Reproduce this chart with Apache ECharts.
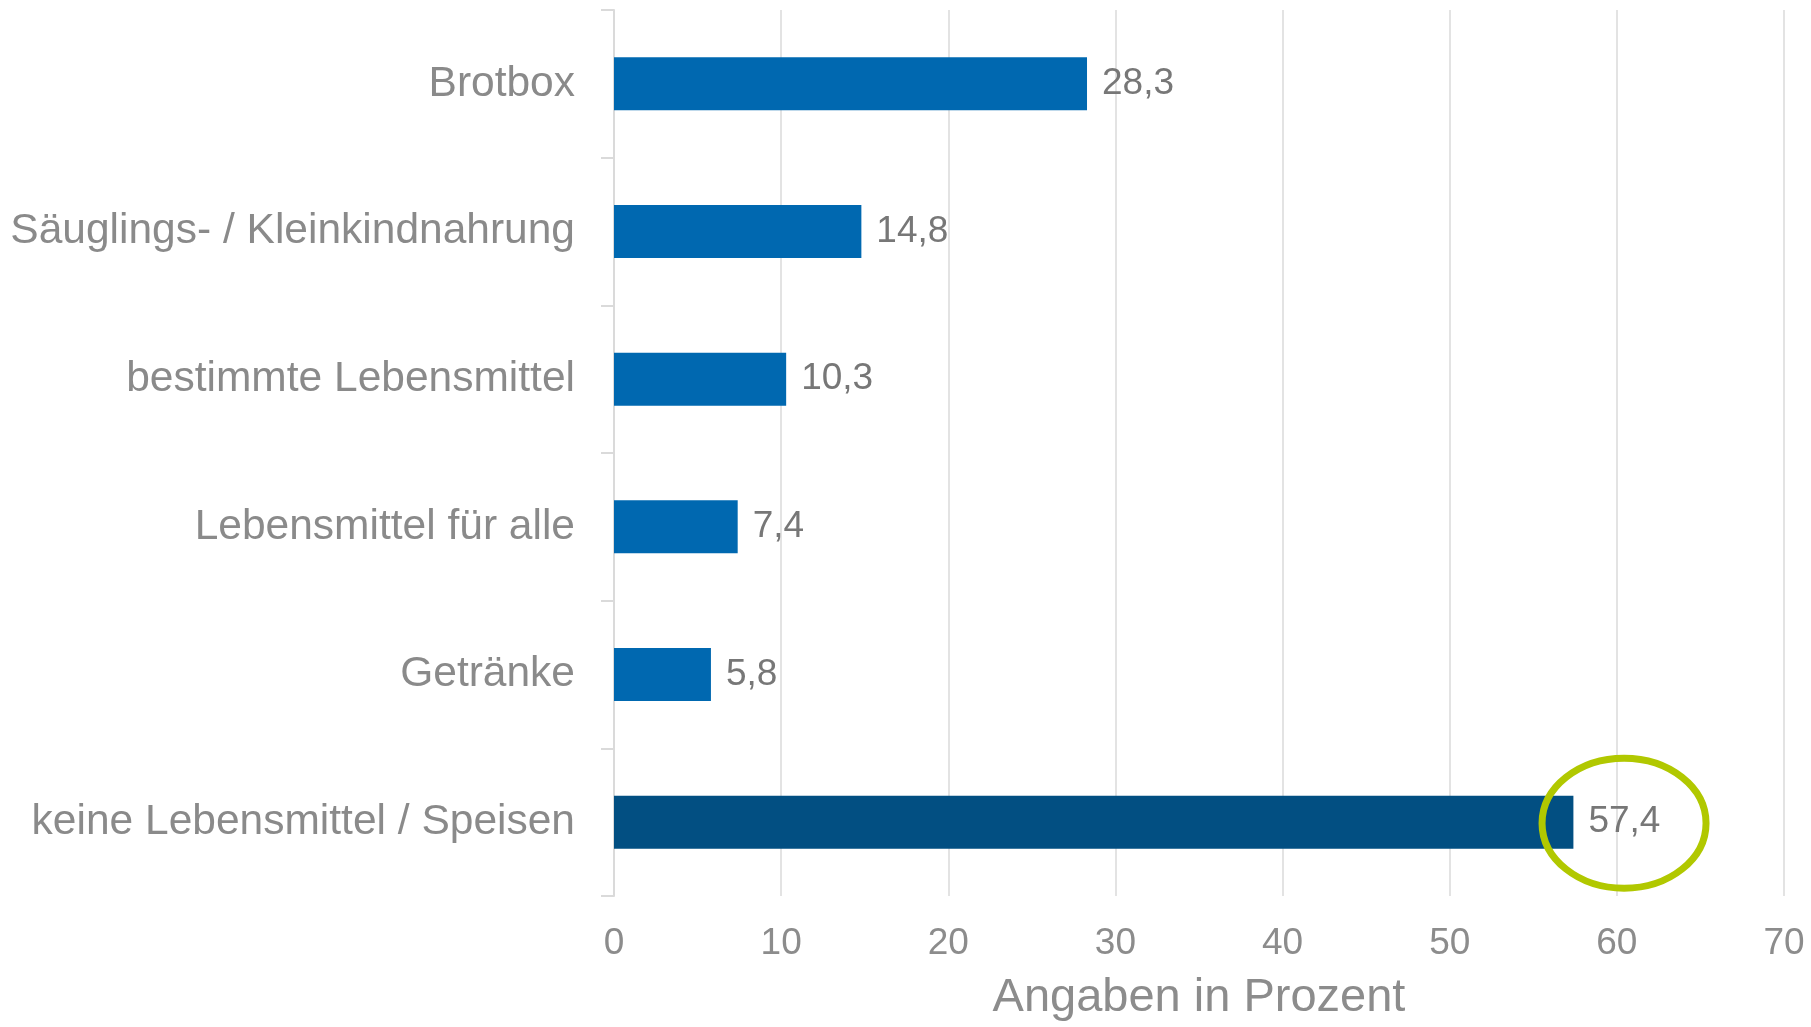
<!DOCTYPE html>
<html>
<head>
<meta charset="utf-8">
<script src="https://cdn.jsdelivr.net/npm/echarts@6/dist/echarts.min.js"></script>
<style>
  html, body { margin: 0; padding: 0; background: #fff; }
  #chart { width: 1811px; height: 1027px; }
</style>
</head>
<body>
<div id="chart"></div>
<script>
  var categories = [
    'Brotbox',
    'Säuglings- / Kleinkindnahrung',
    'bestimmte Lebensmittel',
    'Lebensmittel für alle',
    'Getränke',
    'keine Lebensmittel / Speisen'
  ];
  var values = [28.3, 14.8, 10.3, 7.4, 5.8, 57.4];
  var highlightIndex = 5;   // last bar is darker and circled

  var fontFamily = 'Arial, "Liberation Sans", sans-serif';

  var chart = echarts.init(document.getElementById('chart'));

  var option = {
    animation: false,
    backgroundColor: '#ffffff',
    grid: {
      left: 614,
      right: 27,
      top: 10,
      bottom: 127,
      containLabel: false
    },
    xAxis: {
      type: 'value',
      min: 0,
      max: 70,
      interval: 10,
      name: 'Angaben in Prozent',
      nameLocation: 'middle',
      nameGap: 79,
      nameTextStyle: {
        color: '#8c8c8c',
        fontSize: 47,
        fontFamily: fontFamily
      },
      axisLine: { show: false },
      axisTick: { show: false },
      axisLabel: {
        color: '#8c8c8c',
        fontSize: 37,
        fontFamily: fontFamily,
        margin: 29
      },
      splitLine: {
        show: true,
        lineStyle: { color: '#e3e3e3', width: 2 }
      }
    },
    yAxis: {
      type: 'category',
      inverse: true,
      data: categories,
      axisLine: {
        show: true,
        lineStyle: { color: '#dadada', width: 2 }
      },
      axisTick: {
        show: true,
        length: 13,
        lineStyle: { color: '#dadada', width: 2 }
      },
      axisLabel: {
        color: '#8a8a8a',
        fontSize: 42.5,
        fontFamily: fontFamily,
        margin: 39
      },
      splitLine: { show: false }
    },
    series: [
      {
        name: 'Angaben',
        type: 'bar',
        barWidth: 53,
        data: values.map(function (v, i) {
          return {
            value: v,
            itemStyle: { color: i === highlightIndex ? '#024f82' : '#0068b0' }
          };
        }),
        label: {
          show: true,
          position: 'right',
          distance: 15,
          color: '#777777',
          fontSize: 37,
          fontFamily: fontFamily,
          formatter: function (p) {
            return String(p.value).replace('.', ',');
          }
        }
      }
    ]
  };

  chart.setOption(option);

  // green ellipse round the highlighted value
  var c = chart.convertToPixel({ gridIndex: 0 }, [60.43, categories[highlightIndex]]);
  chart.setOption({
    graphic: [
      {
        type: 'ellipse',
        shape: { cx: c[0], cy: c[1] + 1, rx: 82, ry: 65 },
        style: { fill: 'none', stroke: '#b1c800', lineWidth: 7 },
        z: 100
      }
    ]
  });
</script>
</body>
</html>
